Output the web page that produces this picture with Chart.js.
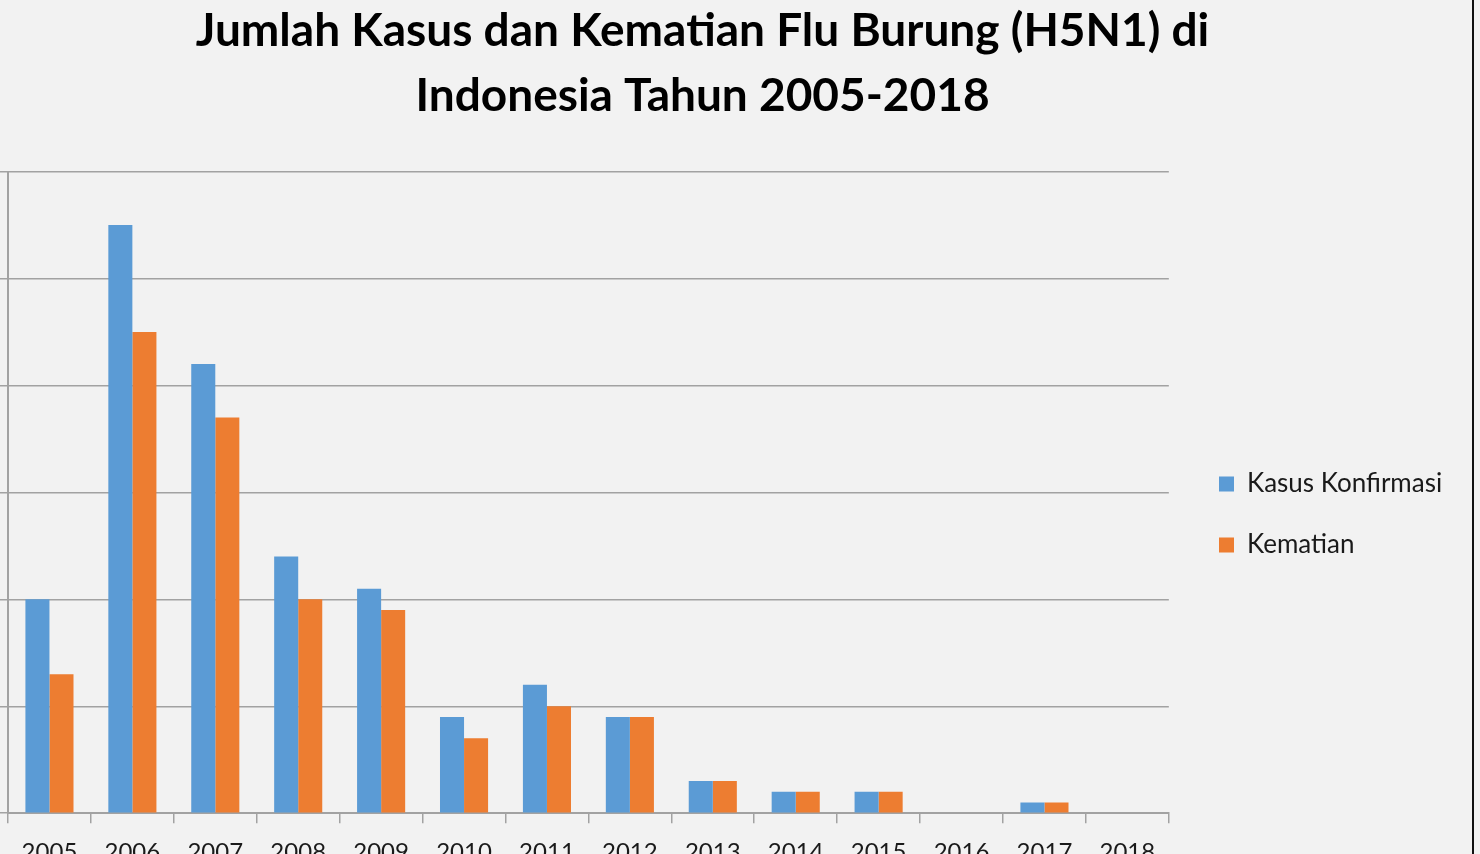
<!DOCTYPE html>
<html>
<head>
<meta charset="utf-8">
<script src="https://cdn.jsdelivr.net/npm/chart.js@4"></script>
<style>
  html, body { margin: 0; padding: 0; background: #f2f2f2; overflow: hidden; }
  #wrap { position: relative; width: 1480px; height: 854px; overflow: hidden; background: #f2f2f2; }
  #grafico { position: absolute; left: 0; top: 0; }
  #tepi { position: absolute; left: 1472px; top: 0; width: 2px; height: 854px; background: #111; }
</style>
</head>
<body>
<div id="wrap">
  <canvas id="grafico" width="1480" height="900"></canvas>
  <div id="tepi"></div>
</div>
<script>
// Data flu burung H5N1 Indonesia
const tahun = ["2005", "2006", "2007", "2008", "2009", "2010", "2011", "2012", "2013", "2014", "2015", "2016", "2017", "2018"];
const kasusKonfirmasi = [20, 55, 42, 24, 21, 9, 12, 9, 3, 2, 2, 0, 1, 0];
const kematian = [13, 45, 37, 20, 19, 7, 10, 9, 3, 2, 2, 0, 1, 0];
const judul = ["Jumlah Kasus dan Kematian Flu Burung (H5N1) di", "Indonesia Tahun 2005-2018"];

const warnaGrid = "#a2a2a2";
const jarakLegenda = 35;

// posisi legenda & judul (mirip Excel)
const posisiLegenda = {
    id: "posisiLegenda",
    afterLayout(chart) {
        const lg = chart.legend;
        if (lg) {
            // kursor legenda = left/top + labels.padding
            lg.left = 1219 - jarakLegenda;
            lg.right = 1480;
            lg.width = lg.right - lg.left;
            lg.top = 471 - jarakLegenda;
            lg.bottom = 840;
            lg.height = lg.bottom - lg.top;
        }
        const tb = chart.titleBlock;
        if (tb) {
            tb.left = 0;
            tb.right = 1405;
            tb.width = 1405;
        }
    }
};

const ctx = document.getElementById("grafico");

new Chart(ctx, {
    type: "bar",
    data: {
        labels: tahun,
        datasets: [
            {
                label: "Kasus Konfirmasi",
                data: kasusKonfirmasi,
                backgroundColor: "#5b9bd5",
                categoryPercentage: 0.58,
                barPercentage: 1.0
            },
            {
                label: "Kematian",
                data: kematian,
                backgroundColor: "#ed7d31",
                categoryPercentage: 0.58,
                barPercentage: 1.0
            }
        ]
    },
    options: {
        responsive: false,
        animation: false,
        layout: { padding: { left: 0, right: 43, top: 0, bottom: 18 } },
        plugins: {
            title: {
                display: true,
                text: judul,
                color: "#000",
                font: { family: "Lato", size: 46, weight: "bold", lineHeight: 1.43 },
                padding: { top: -2, bottom: 42 }
            },
            legend: {
                position: "right",
                align: "start",
                fullSize: false,
                padding: 0,
                labels: {
                    boxWidth: 15,
                    boxHeight: 15,
                    padding: jarakLegenda,
                    color: "#1a1a1a",
                    font: { family: "Lato", size: 26 }
                }
            },
            tooltip: { enabled: false }
        },
        scales: {
            x: {
                grid: {
                    offset: true,
                    drawOnChartArea: false,
                    drawTicks: true,
                    tickLength: 10,
                    color: warnaGrid,
                    lineWidth: 1.5
                },
                border: { color: warnaGrid, width: 2 },
                ticks: {
                    color: "#1a1a1a",
                    padding: 15,
                    maxRotation: 0,
                    font: { family: "Lato", size: 24 }
                }
            },
            y: {
                min: 0,
                max: 60,
                ticks: { display: false, stepSize: 10 },
                grid: {
                    color: warnaGrid,
                    lineWidth: 1.5,
                    tickLength: 8
                },
                border: { color: warnaGrid, width: 2 }
            }
        }
    },
    plugins: [posisiLegenda]
});
</script>
</body>
</html>
